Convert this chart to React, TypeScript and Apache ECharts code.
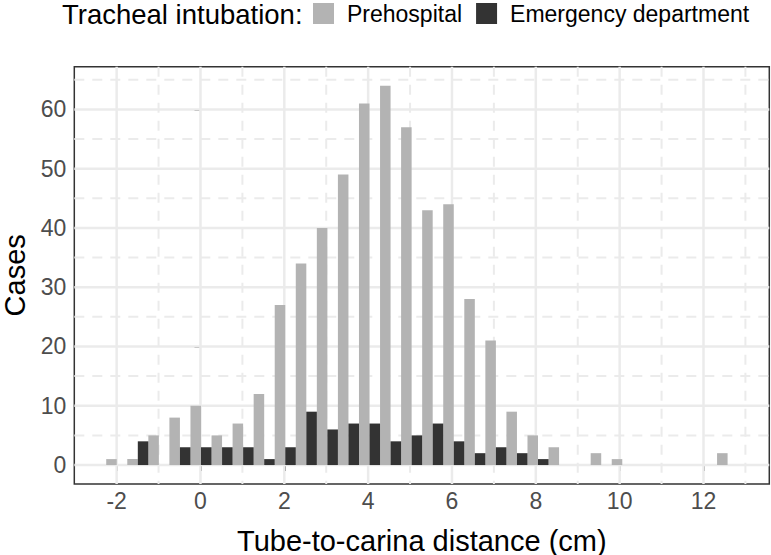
import React, { useEffect, useRef } from "react";
import * as echarts from "echarts";

// Histogram bins (tube-to-carina distance, cm)
const binStart = -2.5;
const binWidth = 0.5025;
const prehospital = [1, 1, 5, 8, 10, 5, 7, 12, 27, 34, 40, 49, 61, 64, 57, 43, 44, 28, 21, 9, 5, 3, 0, 2, 1, 0, 0, 0, 0, 2];
const emergency = [0, 0, 4, 0, 3, 3, 3, 3, 1, 3, 9, 6, 7, 7, 4, 5, 7, 4, 2, 3, 2, 1, 0, 0, 0, 0, 0, 0, 0, 0];

const xTicks = [-2, 0, 2, 4, 6, 8, 10, 12];
const xMinorTicks = [-1, 1, 3, 5, 7, 9, 11, 13];
const yTicks = [0, 10, 20, 30, 40, 50, 60];
const yMinorTicks = [5, 15, 25, 35, 45, 55, 65];

const FONT = "Liberation Sans, Arial, sans-serif";

export default function App() {
  const ref = useRef<HTMLDivElement>(null);

  useEffect(() => {
    if (!ref.current) return;
    const chart = echarts.init(ref.current, undefined, { renderer: "svg" });

    const preData: number[][] = [];
    const emData: number[][] = [];
    prehospital.forEach((v, i) => {
      const left = binStart + i * binWidth;
      if (v > 0) preData.push([left + binWidth / 2, left + binWidth, v]);
    });
    emergency.forEach((v, i) => {
      const left = binStart + i * binWidth;
      if (v > 0) emData.push([left, left + binWidth / 2, v]);
    });

    const barRender = (params: any, api: any) => {
      const p0 = api.coord([api.value(0), api.value(2)]);
      const p1 = api.coord([api.value(1), 0]);
      return {
        type: "rect",
        shape: { x: p0[0], y: p0[1], width: p1[0] - p0[0], height: p1[1] - p0[1] },
        style: { fill: api.visual("color") },
      };
    };

    const vLine = (dashed: boolean) => (params: any, api: any) => {
      const cs = params.coordSys;
      const x = api.coord([api.value(0), 0])[0];
      return {
        type: "line",
        shape: { x1: x, y1: cs.y, x2: x, y2: cs.y + cs.height },
        style: {
          stroke: "#EBEBEB",
          lineWidth: dashed ? 2 : 2.5,
          lineDash: dashed ? [10, 8] : null,
        },
        silent: true,
      };
    };
    const hLine = (dashed: boolean) => (params: any, api: any) => {
      const cs = params.coordSys;
      const y = api.coord([0, api.value(1)])[1];
      return {
        type: "line",
        shape: { x1: cs.x, y1: y, x2: cs.x + cs.width, y2: y },
        style: {
          stroke: "#EBEBEB",
          lineWidth: dashed ? 2 : 2.5,
          lineDash: dashed ? [10, 8] : null,
        },
        silent: true,
      };
    };

    chart.setOption({
      animation: false,
      backgroundColor: "#FFFFFF",
      textStyle: { fontFamily: FONT },
      grid: {
        left: 74.3,
        right: 1.7,
        top: 66.7,
        bottom: 71,
        show: true,
        borderColor: "#333333",
        borderWidth: 1.5,
        backgroundColor: "transparent",
        containLabel: false,
        outerBoundsMode: "none",
      },
      legend: {
        data: ["Prehospital", "Emergency department"],
        left: 313,
        top: 2,
        padding: 0,
        icon: "rect",
        itemWidth: 21,
        itemHeight: 21,
        itemGap: 14,
        textStyle: { fontSize: 23, color: "#000000", fontFamily: FONT, padding: [0, 0, 0, 8] },
        selectedMode: false,
      },
      graphic: [
        {
          type: "text",
          left: 62,
          top: 0,
          style: { text: "Tracheal intubation:", fill: "#000000", font: `27.5px ${FONT}` },
        },
      ],
      xAxis: {
        type: "value",
        min: -3.01,
        max: 13.57,
        axisLine: { show: false },
        splitLine: { show: false },
        axisTick: {
          show: true,
          customValues: xTicks,
          length: 6,
          lineStyle: { color: "#333333", width: 1.5 },
        },
        axisLabel: {
          customValues: xTicks,
          fontSize: 23,
          color: "#4D4D4D",
          margin: 5,
          fontFamily: FONT,
        },
        name: "Tube-to-carina distance (cm)",
        nameLocation: "middle",
        nameGap: 42,
        nameTextStyle: { fontSize: 29, color: "#000000", fontFamily: FONT },
      },
      yAxis: {
        type: "value",
        min: -3.2,
        max: 67.2,
        axisLine: { show: false },
        splitLine: { show: false },
        axisTick: {
          show: true,
          customValues: yTicks,
          length: 6,
          lineStyle: { color: "#333333", width: 1.5 },
        },
        axisLabel: {
          customValues: yTicks,
          fontSize: 23,
          color: "#4D4D4D",
          margin: 8,
          fontFamily: FONT,
        },
        name: "Cases",
        nameLocation: "middle",
        nameGap: 44,
        nameTextStyle: { fontSize: 29, color: "#000000", fontFamily: FONT },
      },
      series: [
        { type: "custom", name: "gridMinorX", z: 1, silent: true, renderItem: vLine(true), data: xMinorTicks.map((v) => [v, 0]) },
        { type: "custom", name: "gridMinorY", z: 1, silent: true, renderItem: hLine(true), data: yMinorTicks.map((v) => [0, v]) },
        { type: "custom", name: "gridMajorX", z: 1, silent: true, renderItem: vLine(false), data: xTicks.map((v) => [v, 0]) },
        { type: "custom", name: "gridMajorY", z: 1, silent: true, renderItem: hLine(false), data: yTicks.map((v) => [0, v]) },
        {
          type: "custom",
          name: "Prehospital",
          z: 3,
          itemStyle: { color: "#B3B3B3" },
          renderItem: barRender,
          encode: { x: [0, 1], y: 2 },
          data: preData,
        },
        {
          type: "custom",
          name: "Emergency department",
          z: 3,
          itemStyle: { color: "#333333" },
          renderItem: barRender,
          encode: { x: [0, 1], y: 2 },
          data: emData,
        },
      ],
    });

    return () => chart.dispose();
  }, []);

  return <div ref={ref} style={{ position: "absolute", left: 0, top: 0, width: 771, height: 555 }} />;
}
